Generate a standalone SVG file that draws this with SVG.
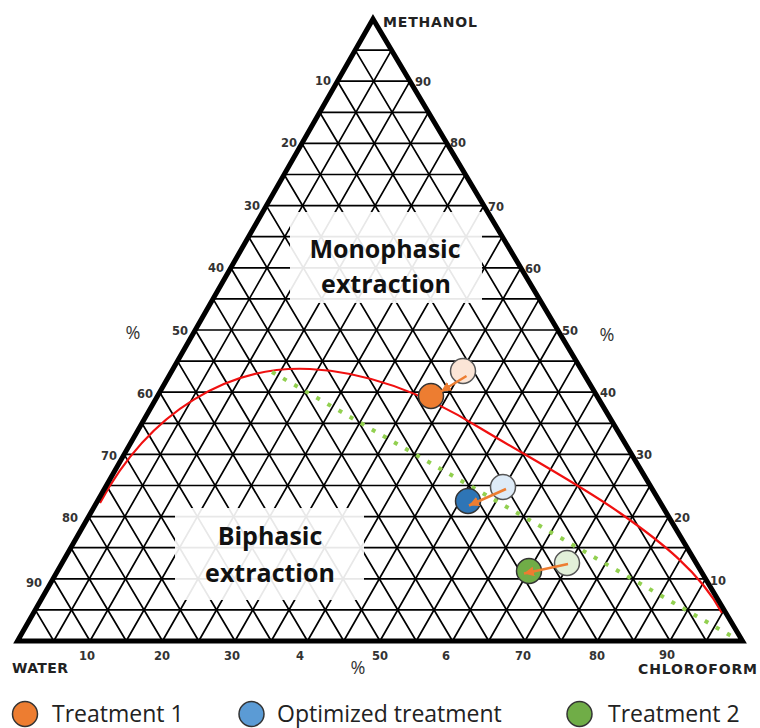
<svg xmlns="http://www.w3.org/2000/svg" width="760" height="728" viewBox="0 0 760 728">
<style>
.grid{fill:none;stroke:#000;stroke-width:1.7}
.edge{fill:none;stroke:#000;stroke-width:5;stroke-linejoin:miter}
.tick{font-family:"DejaVu Sans",Verdana,sans-serif;font-weight:bold;font-size:11.5px;fill:#333}
.vert{font-family:"DejaVu Sans",Verdana,sans-serif;font-weight:bold;font-size:14px;fill:#222}
.pct{font-family:"Open Sans","Noto Sans",sans-serif;font-size:18px;fill:#333;text-anchor:middle}
.region{font-family:"Open Sans","Noto Sans",sans-serif;font-weight:bold;font-size:25px;fill:#111;text-anchor:middle}
.legend{font-family:"Open Sans","Noto Sans",sans-serif;font-size:23px;fill:#222}
.box{fill:#fff;fill-opacity:0.91}
.pt{stroke:#333;stroke-width:1.5}
.ptl{stroke:#555;stroke-width:1.5}
.arrow{fill:none;stroke:#ED7D31;stroke-width:2.5}
</style>
<defs>
<marker id="ah" markerUnits="userSpaceOnUse" markerWidth="12" markerHeight="10" refX="10" refY="5" orient="auto">
<path d="M0,0 L10,5 L0,10 Z" fill="#ED7D31"/>
</marker>
</defs>
<rect width="760" height="728" fill="#fff"/>
<g id="grid" class="grid">
<path d="M355.23,50.1H391.48M337.45,81.2H409.95M319.68,112.3H428.43M301.9,143.4H446.9M284.13,174.5H465.38M266.35,205.6H483.85M248.58,236.7H502.33M230.8,267.8H520.8M213.03,298.9H539.28M195.25,330H557.75M177.48,361.1H576.23M159.7,392.2H594.7M141.93,423.3H613.18M124.15,454.4H631.65M106.38,485.5H650.13M88.6,516.6H668.6M70.83,547.7H687.08M53.05,578.8H705.55M35.28,609.9H724.03"/>
<path d="M53.75,641L391.48,50.1M90,641L409.95,81.2M126.25,641L428.43,112.3M162.5,641L446.9,143.4M198.75,641L465.38,174.5M235,641L483.85,205.6M271.25,641L502.33,236.7M307.5,641L520.8,267.8M343.75,641L539.28,298.9M380,641L557.75,330M416.25,641L576.23,361.1M452.5,641L594.7,392.2M488.75,641L613.18,423.3M525,641L631.65,454.4M561.25,641L650.13,485.5M597.5,641L668.6,516.6M633.75,641L687.08,547.7M670,641L705.55,578.8M706.25,641L724.03,609.9"/>
<path d="M706.25,641L355.23,50.1M670,641L337.45,81.2M633.75,641L319.68,112.3M597.5,641L301.9,143.4M561.25,641L284.13,174.5M525,641L266.35,205.6M488.75,641L248.58,236.7M452.5,641L230.8,267.8M416.25,641L213.03,298.9M380,641L195.25,330M343.75,641L177.48,361.1M307.5,641L159.7,392.2M271.25,641L141.93,423.3M235,641L124.15,454.4M198.75,641L106.38,485.5M162.5,641L88.6,516.6M126.25,641L70.83,547.7M90,641L53.05,578.8M53.75,641L35.28,609.9"/>
</g>
<g id="regions">
<rect class="box" x="290" y="212" width="192" height="91"/>
<rect class="box" x="175" y="508" width="189" height="92"/>
<text class="region" x="385" y="258">Monophasic</text>
<text class="region" x="386" y="293">extraction</text>
<text class="region" x="270" y="545">Biphasic</text>
<text class="region" x="270" y="582">extraction</text>
</g>
<g id="curves">
<path d="M100,503 C150,410 230,365 310,369 C370,372 430,397 480,428 C530,458 580,485 620,513 C660,541 700,572 722,613" fill="none" stroke="#f01010" stroke-width="2.2"/>
<path d="M272,372 L733,637" fill="none" stroke="#92D050" stroke-width="4" stroke-dasharray="4 8.8"/>
</g>
<g id="triangle">
<polygon class="edge" points="373,19 17.5,641 742.5,641"/>
</g>
<g id="labels">
<text class="vert" x="383" y="27" textLength="94">METHANOL</text>
<text class="vert" x="12" y="673" textLength="56">WATER</text>
<text class="vert" x="638" y="674" textLength="119">CHLOROFORM</text>
<g text-anchor="end">
<text class="tick" x="331" y="85">10</text>
<text class="tick" x="297" y="147">20</text>
<text class="tick" x="260" y="210">30</text>
<text class="tick" x="224" y="272">40</text>
<text class="tick" x="188" y="335">50</text>
<text class="tick" x="153" y="398">60</text>
<text class="tick" x="117" y="460">70</text>
<text class="tick" x="78" y="522">80</text>
<text class="tick" x="42" y="587">90</text>
</g>
<g>
<text class="tick" x="415" y="86">90</text>
<text class="tick" x="450" y="147">80</text>
<text class="tick" x="488" y="211">70</text>
<text class="tick" x="525" y="273">60</text>
<text class="tick" x="562" y="335">50</text>
<text class="tick" x="600" y="397">40</text>
<text class="tick" x="636" y="459">30</text>
<text class="tick" x="674" y="522">20</text>
<text class="tick" x="710" y="585">10</text>
</g>
<g text-anchor="middle">
<text class="tick" x="87" y="660">10</text>
<text class="tick" x="162" y="660">20</text>
<text class="tick" x="232" y="660">30</text>
<text class="tick" x="300" y="660">4</text>
<text class="tick" x="380" y="660">50</text>
<text class="tick" x="446" y="660">6</text>
<text class="tick" x="523" y="660">70</text>
<text class="tick" x="597" y="660">80</text>
<text class="tick" x="667" y="659">90</text>
</g>
<text class="pct" x="133" y="339">%</text>
<text class="pct" x="607" y="341">%</text>
<text class="pct" x="358" y="674">%</text>
</g>
<g id="points">
<g id="t1-start"><circle class="ptl" cx="463" cy="371" r="12.5" fill="#FBE5D6"/></g>
<g id="t1-end"><circle class="pt" cx="431" cy="396" r="12.5" fill="#ED7D31"/></g>
<g id="opt-start"><circle class="ptl" cx="503" cy="487" r="12.5" fill="#DEEBF7"/></g>
<g id="opt-end"><circle class="pt" cx="468" cy="501" r="12.5" fill="#2E75B6"/></g>
<g id="t2-start"><circle class="ptl" cx="567" cy="563" r="12.5" fill="#E2F0D9"/></g>
<g id="t2-end"><circle class="pt" cx="529" cy="571" r="12.5" fill="#70AD47"/></g>
</g>
<g id="connectors">
<line class="arrow" x1="466.5" y1="376" x2="441" y2="391.5" marker-end="url(#ah)"/>
<line class="arrow" x1="506" y1="489" x2="469" y2="505.5" marker-end="url(#ah)"/>
<line class="arrow" x1="568" y1="564" x2="524" y2="573.5" marker-end="url(#ah)"/>
</g>
<g id="legend">
<g id="leg-t1"><circle class="pt" cx="25" cy="714" r="12.5" fill="#ED7D31"/><text class="legend" x="52" y="722">Treatment 1</text></g>
<g id="leg-opt"><circle class="pt" cx="251.5" cy="714" r="12.5" fill="#5B9BD5"/><text class="legend" x="277" y="722">Optimized treatment</text></g>
<g id="leg-t2"><circle class="pt" cx="579.5" cy="714" r="12.5" fill="#70AD47"/><text class="legend" x="608" y="722">Treatment 2</text></g>
</g>
</svg>
